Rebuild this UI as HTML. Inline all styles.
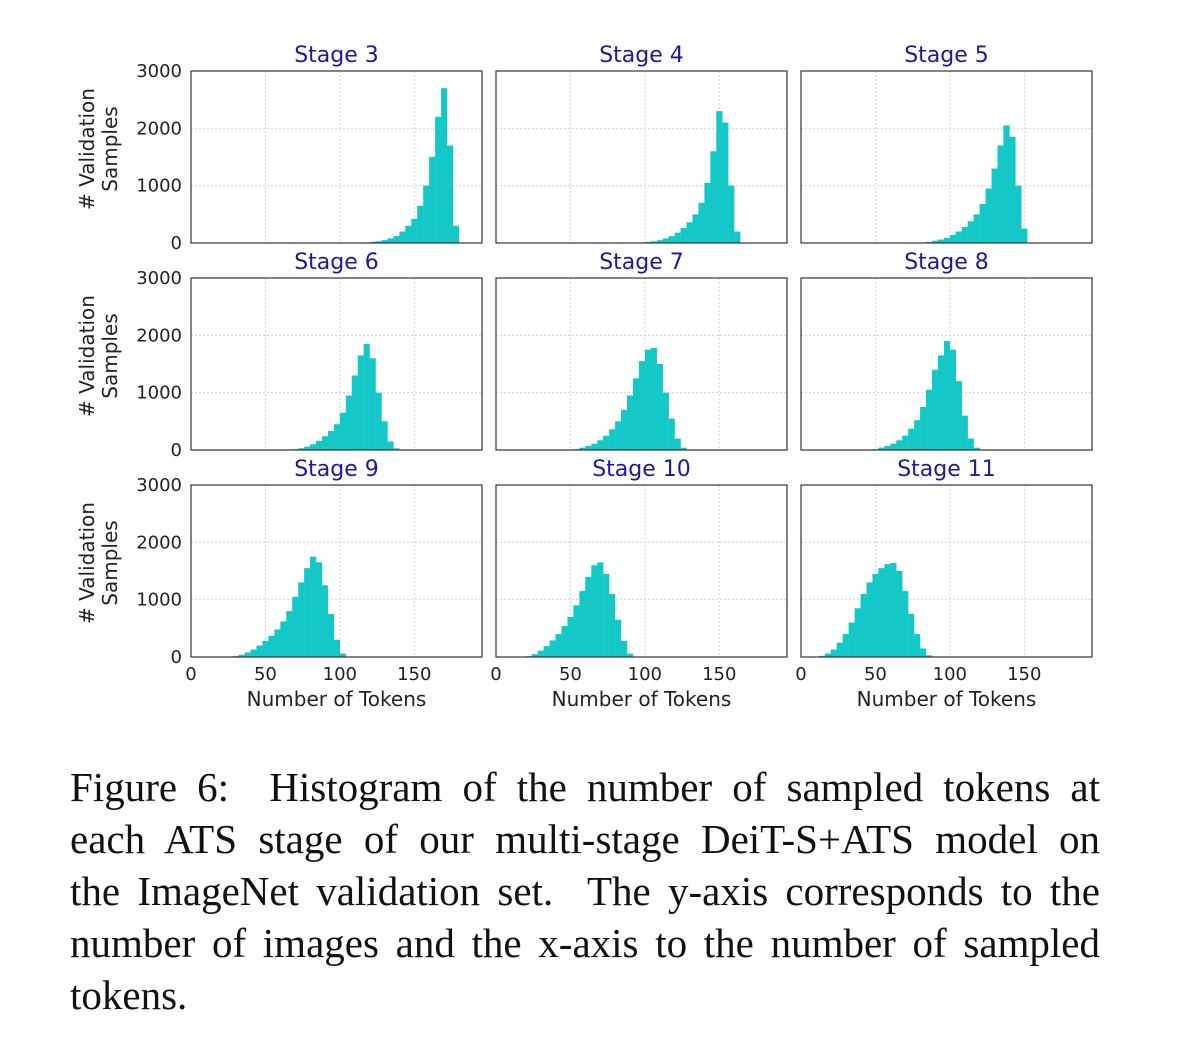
<!DOCTYPE html>
<html><head><meta charset="utf-8"><style>
body{margin:0;background:#fff;width:1185px;height:1046px;overflow:hidden;}
#cap{position:absolute;left:70px;top:761px;width:1030px;font-family:"Liberation Serif",serif;font-size:41px;color:#111;}
#cap div{height:52px;line-height:52px;text-align:justify;text-align-last:justify;white-space:nowrap;}
#cap div.last{text-align-last:left;}
</style></head><body>
<svg id="fig" width="1185" height="750" style="position:absolute;left:0;top:0" font-family="DejaVu Sans, Liberation Sans, sans-serif"></svg>
<div id="cap">
<div>Figure 6:&nbsp; Histogram of the number of sampled tokens at</div>
<div>each ATS stage of our multi-stage DeiT-S+ATS model on</div>
<div>the ImageNet validation set.&nbsp; The y-axis corresponds to the</div>
<div>number of images and the x-axis to the number of sampled</div>
<div class="last">tokens.</div>
</div>
<script>
const stageNames=["Stage 3","Stage 4","Stage 5","Stage 6","Stage 7","Stage 8","Stage 9","Stage 10","Stage 11"];
const binWidth=4;
const binStarts=[116,96,80,68,52,48,28,20,12];
const s3=[10,20,30,50,80,120,200,300,420,650,1000,1500,2200,2700,1700,300];
const s4=[10,20,30,50,80,120,180,260,360,500,700,1050,1600,2300,2100,1000,200];
const s5=[10,20,40,60,90,140,200,280,380,500,680,950,1300,1700,2050,1850,1000,250];
const s6=[15,30,60,100,160,240,330,450,650,950,1300,1650,1850,1600,1000,500,150,30];
const s7=[15,40,70,110,170,250,360,500,700,950,1250,1550,1750,1780,1500,1000,550,200,40];
const s8=[15,40,70,110,170,250,370,520,750,1050,1400,1650,1900,1750,1200,600,200,40];
const s9=[15,40,80,130,200,280,370,480,620,800,1050,1300,1550,1750,1650,1250,750,300,60];
const s10=[15,50,110,190,290,400,540,700,900,1150,1400,1600,1650,1450,1100,650,280,60];
const s11=[20,60,130,250,400,600,850,1100,1300,1450,1550,1620,1640,1500,1150,750,400,150,30];
const series=[s3,s4,s5,s6,s7,s8,s9,s10,s11];
const xTicks=[0,50,100,150];
const yTicks=[0,1000,2000,3000];
const xMax=195.5, yMax=3000;
const NS="http://www.w3.org/2000/svg";
const svg=document.getElementById('fig');
function mk(t,a,p){const e=document.createElementNS(NS,t);for(const k in a)e.setAttribute(k,a[k]);(p||svg).appendChild(e);return e;}
const colX=[191,496,801], rowY=[71,278,485], W=291, H=172;
for(let i=0;i<9;i++){
  const c=i%3,r=Math.floor(i/3),x0=colX[c],y0=rowY[r];
  const xs=v=>x0+v/xMax*W, ys=v=>y0+H-v/yMax*H;
  const g=mk('g',{});
  
  
  for(const t of xTicks){if(t>0){const l=mk('line',{x1:xs(t),x2:xs(t),y1:y0,y2:y0+H,stroke:'#ccc','stroke-width':0.8,'stroke-dasharray':'2,2'},g);}}
  for(const t of yTicks){if(t>0&&t<3000){const l=mk('line',{x1:x0,x2:x0+W,y1:ys(t),y2:ys(t),stroke:'#ccc','stroke-width':0.8,'stroke-dasharray':'2,2'},g);}}
  const d=series[i];
  d.forEach((v,k)=>{const b0=binStarts[i]+k*binWidth;const b=mk('rect',{x:xs(b0),y:ys(v),width:xs(b0+binWidth)-xs(b0)+0.2,height:ys(0)-ys(v),fill:'#14c8c8'},g);
    });
  const fr=mk('rect',{x:x0,y:y0,width:W,height:H,fill:'none',stroke:'#333','stroke-width':1.2},g);
  
  const tt=mk('text',{x:x0+W/2,y:y0-9,'text-anchor':'middle','font-size':22,fill:'#1a1a9c'},g);tt.textContent=stageNames[i];
  
  if(c===0){
    for(const t of yTicks){const tl=mk('text',{x:x0-9,y:ys(t)+6,'text-anchor':'end','font-size':18,fill:'#222'},g);tl.textContent=t;
      }
    const yl=mk('text',{transform:`translate(97,${y0+H/2-8}) rotate(-90)`,'text-anchor':'middle','font-size':20,fill:'#222'},g);
    
    const a=mk('tspan',{x:0,dy:-3},yl);a.textContent='# Validation';
    const b=mk('tspan',{x:0,dy:23},yl);b.textContent='Samples';
  }
  if(r===2){
    for(const t of xTicks){const tl=mk('text',{x:xs(t),y:y0+H+23,'text-anchor':'middle','font-size':18,fill:'#222'},g);tl.textContent=t;
      }
    const xl=mk('text',{x:x0+W/2,y:y0+H+49,'text-anchor':'middle','font-size':20,fill:'#222'},g);xl.textContent='Number of Tokens';
    
  }
}
</script>
</body></html>
